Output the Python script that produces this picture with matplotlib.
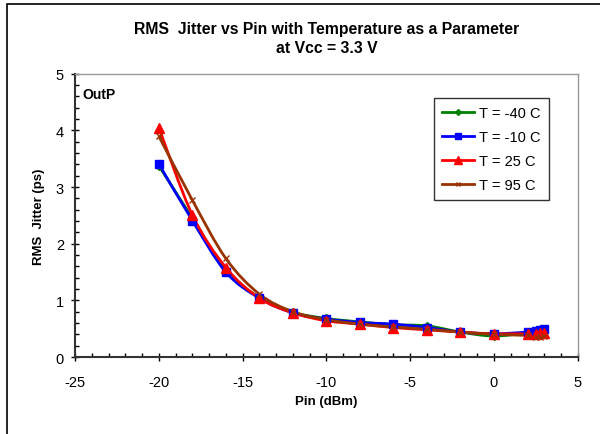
import matplotlib
matplotlib.use("Agg")
import matplotlib.pyplot as plt
from matplotlib.path import Path
from matplotlib.patches import PathPatch, Rectangle
from matplotlib.ticker import MultipleLocator

plt.rcParams['font.family'] = ['Liberation Sans', 'DejaVu Sans']
plt.rcParams['axes.unicode_minus'] = False

pin = [-20, -18, -16, -14, -12, -10, -8, -6, -4, -2, 0, 2, 2.5, 2.75, 3]

jit_m40 = [3.38, 2.45, 1.53, 1.05, 0.79, 0.68, 0.62, 0.57, 0.55, 0.44, 0.37, 0.43, 0.46, 0.48, 0.50]
jit_m10 = [3.41, 2.41, 1.50, 1.04, 0.78, 0.67, 0.61, 0.58, 0.52, 0.44, 0.41, 0.44, 0.46, 0.48, 0.49]
jit_25 = [4.05, 2.51, 1.58, 1.04, 0.78, 0.64, 0.58, 0.52, 0.48, 0.44, 0.41, 0.41, 0.40, 0.42, 0.43]
jit_95 = [3.90, 2.77, 1.74, 1.11, 0.80, 0.66, 0.58, 0.53, 0.49, 0.44, 0.40, 0.38, 0.35, 0.36, 0.37]

labels = ['T = -40 C', 'T = -10 C', 'T = 25 C', 'T = 95 C']
colors = ['#008000', '#0000FF', '#FF0000', '#993300']
markers = ['D', 's', '^', 'x']
msizes = [4, 6, 7, 4]


def smooth_path(xs, ys):
    # excel style smoothed line: bezier segments through the points
    verts = [(xs[0], ys[0])]
    codes = [Path.MOVETO]
    n = len(xs)
    for i in range(n - 1):
        x0, y0 = (xs[i - 1], ys[i - 1]) if i > 0 else (xs[i], ys[i])
        x1, y1 = xs[i], ys[i]
        x2, y2 = xs[i + 1], ys[i + 1]
        x3, y3 = (xs[i + 2], ys[i + 2]) if i + 2 < n else (x2, y2)
        c1 = (x1 + (x2 - x0) / 6, y1 + (y2 - y0) / 6)
        c2 = (x2 - (x3 - x1) / 6, y2 - (y3 - y1) / 6)
        verts += [c1, c2, (x2, y2)]
        codes += [Path.CURVE4] * 3
    return Path(verts, codes)


fig = plt.figure(figsize=(6, 4.35), dpi=100)
ax = fig.add_axes([0.125, 0.177, 0.838, 0.651])

fig.patches.append(Rectangle((7 / 600, -0.1), 1.2, 1 - 5 / 435 + 0.1, transform=fig.transFigure,
                             fill=False, edgecolor='black', linewidth=1.2, zorder=0))

series = [jit_m40, jit_m10, jit_25, jit_95]
for ys, lab, c, m, ms in zip(series, labels, colors, markers, msizes):
    ax.add_patch(PathPatch(smooth_path(pin, ys), fill=False, edgecolor=c, linewidth=2, zorder=2))
    ax.plot(pin, ys, linestyle='none', marker=m, color=c, markersize=ms, zorder=3)
    ax.plot([], [], color=c, marker=m, markersize=ms - 1, linewidth=2, label=lab)

ax.set_xlim(-25, 5)
ax.set_ylim(0, 5)
ax.xaxis.set_major_locator(MultipleLocator(5))
ax.xaxis.set_minor_locator(MultipleLocator(1))
ax.yaxis.set_major_locator(MultipleLocator(1))
ax.yaxis.set_minor_locator(MultipleLocator(0.2))
ax.tick_params(which='major', direction='inout', length=6, width=1, labelsize=10.5, pad=5)
ax.tick_params(which='minor', direction='in', length=3, width=1)
ax.tick_params(axis='x', pad=10)

for s in ['left', 'bottom']:
    ax.spines[s].set_color('#333333')
    ax.spines[s].set_linewidth(1.5)
for s in ['top', 'right']:
    ax.spines[s].set_color('#999999')
    ax.spines[s].set_linewidth(1)

ax.set_xlabel('Pin (dBm)', fontsize=9.5, fontweight='bold', labelpad=4)
ax.set_ylabel('RMS  Jitter (ps)', fontsize=9.5, fontweight='bold', labelpad=8)
fig.text(0.545, 0.91, 'RMS  Jitter vs Pin with Temperature as a Parameter\nat Vcc = 3.3 V',
         ha='center', va='center', fontsize=11.3, fontweight='bold', linespacing=1.35)
ax.text(0.015, 0.955, 'OutP', transform=ax.transAxes, fontsize=10, fontweight='bold', va='top')

leg = ax.legend(loc='upper right', bbox_to_anchor=(0.942, 0.915), fontsize=10.5, frameon=True,
                fancybox=False, edgecolor='black', handlelength=2.2, handletextpad=0.35,
                borderpad=0.55, labelspacing=0.68, borderaxespad=0)
leg.get_frame().set_linewidth(1)

fig.savefig('out.png', dpi=100)
